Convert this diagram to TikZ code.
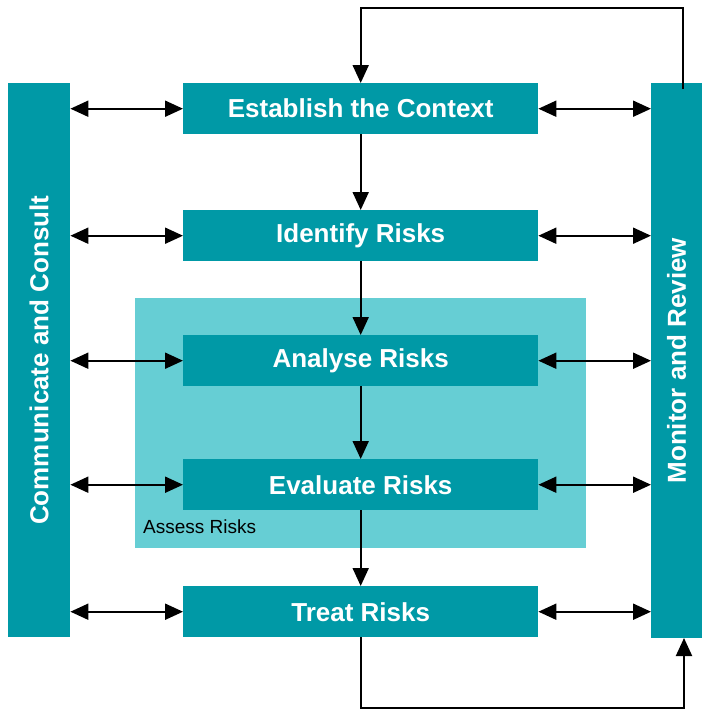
\documentclass[tikz,border=0pt]{standalone}
\usepackage{fontspec}
\setmainfont{Liberation Sans}
\usetikzlibrary{arrows.meta}
\definecolor{teal1}{HTML}{0099A6}
\definecolor{teal2}{HTML}{66CED4}
\tikzset{
  stepbox/.style={fill=teal1, text=white, font=\fontsize{26}{30}\selectfont\bfseries, minimum width=355pt, minimum height=51pt, inner sep=0pt, anchor=north west},
  sidebar/.style={fill=teal1, text=white, font=\fontsize{26}{30}\selectfont\bfseries, inner sep=0pt, anchor=north west},
  arr/.style={line width=2pt, -{Triangle[length=18pt,width=16pt]}},
  darr/.style={line width=2pt, {Triangle[length=18pt,width=16pt]}-{Triangle[length=18pt,width=16pt]}},
}
\begin{document}
\begin{tikzpicture}[x=1pt,y=-1pt]
\useasboundingbox (0,0) rectangle (702,710);
\fill[teal2] (135,298) rectangle (586,548);
\node[font=\fontsize{19}{22}\selectfont, anchor=base west, inner sep=0pt] (ar) at (143,533) {Assess Risks};
\node[sidebar, minimum width=62pt, minimum height=554pt] (cc) at (8,83) {};
\node[rotate=90, text=white, font=\fontsize{26}{30}\selectfont\bfseries] (cct) at (cc.center) {Communicate and Consult};
\node[sidebar, minimum width=51pt, minimum height=555pt] (mr) at (651,83) {};
\node[rotate=90, text=white, font=\fontsize{26}{30}\selectfont\bfseries] (mrt) at (mr.center) {Monitor and Review};
\node[stepbox] (s1) at (183,83) {Establish the Context};
\node[stepbox] (s2) at (183,210) {Identify Risks};
\node[stepbox] (s3) at (183,335) {Analyse Risks};
\node[stepbox] (s4) at (183,459) {Evaluate Risks};
\node[stepbox] (s5) at (183,586) {Treat Risks};
\foreach \i in {1,...,5}{
  \draw[darr] (s\i.west -| cc.east) -- (s\i.west);
  \draw[darr] (s\i.east) -- (s\i.east -| mr.west);
}
\draw[arr] (s1) -- (s2);
\draw[arr] (s2) -- (s3);
\draw[arr] (s3) -- (s4);
\draw[arr] (s4) -- (s5);
\coordinate (t0) at (683,89);
\coordinate (t1) at (683,8);
\draw[arr] (t0) -- (t1) -| (s1.north);
\coordinate (b1) at (684,708);
\coordinate (b2) at (684,638);
\draw[arr] (s5.south) |- (b1) -- (b2);
\end{tikzpicture}
\end{document}
